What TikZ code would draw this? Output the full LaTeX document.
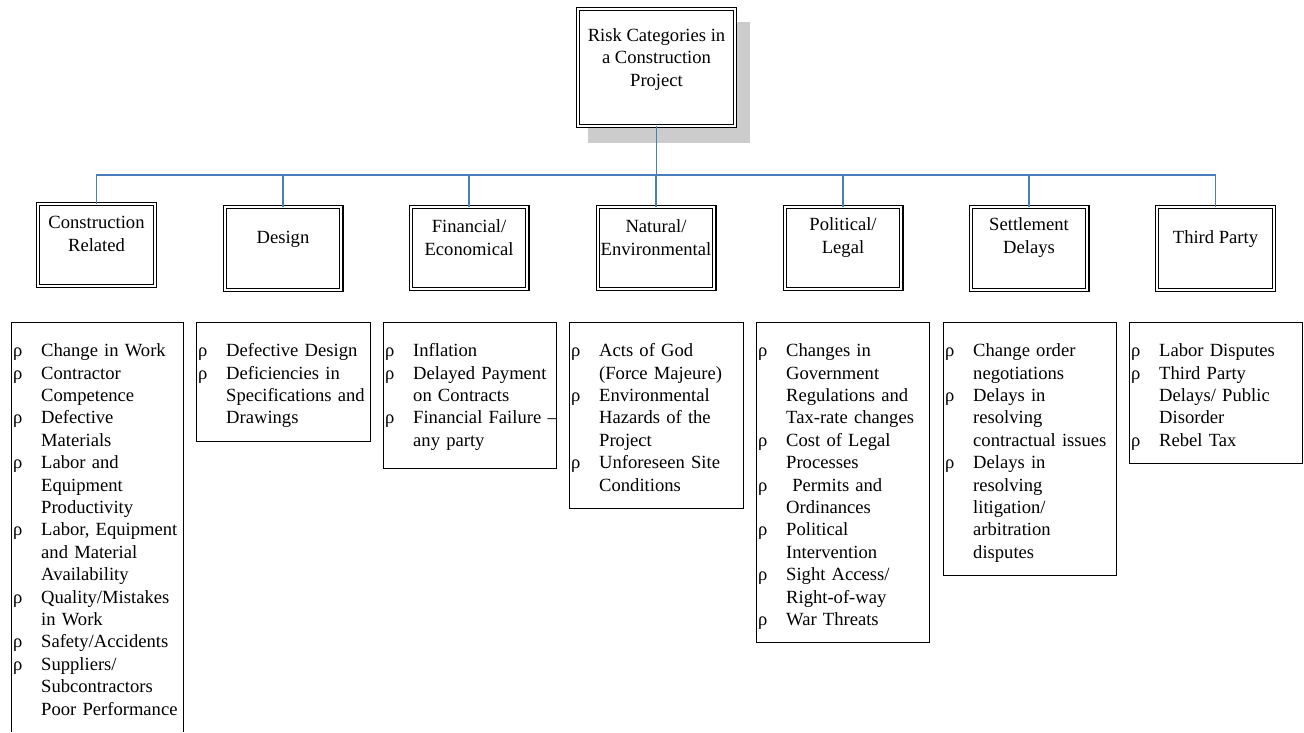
\documentclass[tikz,border=0pt]{standalone}
\usepackage{fontspec}
\setmainfont{Liberation Serif}
\definecolor{conn}{HTML}{4A7EBB}
\definecolor{shadowgray}{HTML}{CCCCCC}
\newcommand{\ritem}[1]{\par\noindent\hangindent=28pt\hangafter=1\strut\makebox[28pt][l]{ρ}#1\par}
\tikzset{
  txt/.style={font=\fontsize{18.6}{22.4}\selectfont},
  topbox/.style={draw, fill=white, double, double distance=2pt, line width=1.1pt,
    minimum width=156.8pt, minimum height=116.8pt, inner sep=0pt, outer sep=0pt},
  catbox/.style={draw, double, double distance=2pt, line width=1.1pt,
    minimum width=116.8pt, minimum height=82.6pt, inner sep=0pt, outer sep=0pt},
  cattext/.style={txt, align=center, inner sep=0pt},
  listbox/.style={draw, line width=0.8pt, anchor=north west, inner sep=0pt, outer sep=0pt},
  listtext/.style={txt, anchor=north west, inner sep=0pt, text width=190pt},
  link/.style={draw=conn, line width=1.3pt},
}
\begin{document}
\begin{tikzpicture}[x=1pt,y=-1pt]
\useasboundingbox (0,0) rectangle (1304,732);

% top box with shadow
\fill[fill=shadowgray] (588,22) rectangle (750,143);
\node[topbox] (top) at (656.5,67.5) {};
\node[cattext] (toptext) at (656.5,59.5) {Risk Categories in\\a Construction\\Project};

% category boxes
\node[catbox] (c1) at (96.5,245) {};
\node[catbox] (c2) at (283,248.5) {};
\node[catbox] (c3) at (469,248) {};
\node[catbox] (c4) at (656,248) {};
\node[catbox] (c5) at (843,248) {};
\node[catbox] (c6) at (1029,248.5) {};
\node[catbox] (c7) at (1215.5,248.5) {};

\node[cattext] (c1t) at (96.5,234) {Construction\\Related};
\node[cattext] (c2t) at (283,239) {Design};
\node[cattext] (c3t) at (469,237.5) {Financial/\\Economical};
\node[cattext] (c4t) at (656,237.5) {Natural/\\Environmental};
\node[cattext] (c5t) at (843,237.5) {Political/\\Legal};
\node[cattext] (c6t) at (1029,237.5) {Settlement\\Delays};
\node[cattext] (c7t) at (1215.5,239) {Third Party};

% connectors
\coordinate (j) at (656.5,175);
\draw[link] (top.south) -- (j);
\foreach \c in {c1,c2,c3,c4,c5,c6,c7}{
  \draw[link] (j) -| (\c.north);
}

% list boxes
\draw[line width=0.8pt] (11,732) -- (11,322) -- (183,322) -- (183,732);
\node[listbox, minimum width=174pt, minimum height=119pt] (l2) at (196,322) {};
\node[listbox, minimum width=173pt, minimum height=146pt] (l3) at (383,322) {};
\node[listbox, minimum width=174pt, minimum height=186pt] (l4) at (569,322) {};
\node[listbox, minimum width=173pt, minimum height=320pt] (l5) at (756,322) {};
\node[listbox, minimum width=173pt, minimum height=253pt] (l6) at (943,322) {};
\node[listbox, minimum width=173pt, minimum height=141pt] (l7) at (1129,322) {};

\node[listtext] (t1) at (13,334) {%
\ritem{Change in Work}%
\ritem{Contractor\newline Competence}%
\ritem{Defective\newline Materials}%
\ritem{Labor and\newline Equipment\newline Productivity}%
\ritem{Labor, Equipment\newline and Material\newline Availability}%
\ritem{Quality/Mistakes\newline in Work}%
\ritem{Safety/Accidents}%
\ritem{Suppliers/\newline Subcontractors\newline Poor Performance}};

\node[listtext] (t2) at (198,334) {%
\ritem{Defective Design}%
\ritem{Deficiencies in\newline Specifications and\newline Drawings}};

\node[listtext] (t3) at (385,334) {%
\ritem{Inflation}%
\ritem{Delayed Payment\newline on Contracts}%
\ritem{Financial Failure --\newline any party}};

\node[listtext] (t4) at (571,334) {%
\ritem{Acts of God\newline (Force Majeure)}%
\ritem{Environmental\newline Hazards of the\newline Project}%
\ritem{Unforeseen Site\newline Conditions}};

\node[listtext] (t5) at (758,334) {%
\ritem{Changes in\newline Government\newline Regulations and\newline Tax-rate changes}%
\ritem{Cost of Legal\newline Processes}%
\ritem{\ Permits and\newline Ordinances}%
\ritem{Political\newline Intervention}%
\ritem{Sight Access/\newline Right-of-way}%
\ritem{War Threats}};

\node[listtext] (t6) at (945,334) {%
\ritem{Change order\newline negotiations}%
\ritem{Delays in\newline resolving\newline contractual issues}%
\ritem{Delays in\newline resolving\newline litigation/\newline arbitration\newline disputes}};

\node[listtext] (t7) at (1131,334) {%
\ritem{Labor Disputes}%
\ritem{Third Party\newline Delays/ Public\newline Disorder}%
\ritem{Rebel Tax}};
\end{tikzpicture}
\end{document}
